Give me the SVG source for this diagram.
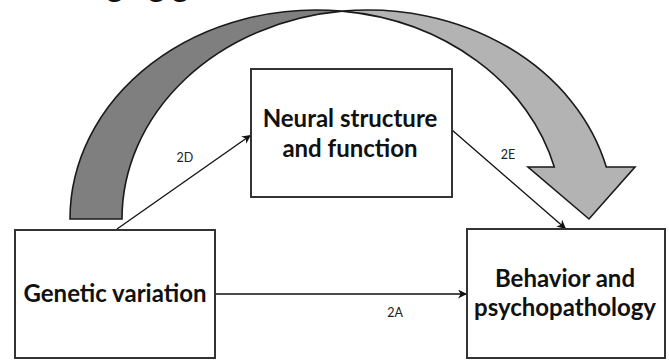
<svg xmlns="http://www.w3.org/2000/svg" width="669" height="360" viewBox="0 0 669 360">
  <style>
    .box { fill: #ffffff; stroke: #333333; stroke-width: 2; }
    .label { font-family: Lato, "Liberation Sans", sans-serif; font-weight: bold; font-size: 24px; fill: #111111; text-anchor: middle; }
    .path-id { font-family: Lato, "Liberation Sans", sans-serif; font-size: 12.5px; fill: #222222; text-anchor: middle; }
    .title { font-family: Lato, "Liberation Sans", sans-serif; font-weight: bold; font-size: 31px; fill: #111111; }
    .link { fill: none; stroke: #111111; stroke-width: 1.3; marker-end: url(#head); }
    .band { stroke: #1a1a1a; stroke-width: 1.6; stroke-linejoin: miter; }
  </style>
  <defs>
    <marker id="head" viewBox="0 0 10 10" refX="10" refY="5" markerWidth="9" markerHeight="9" markerUnits="userSpaceOnUse" orient="auto">
      <path d="M0,0 L10,5 L0,10 L3,5 Z" fill="#111111"/>
    </marker>
  </defs>
  <rect width="669" height="360" fill="#ffffff"/>

  <!-- heading, mostly above the top edge -->
  <text class="title" x="56" y="-3">Imaging genetics</text>

  <!-- overarching curved arrow: back half (dark) and front half with head (light) -->
  <g id="curved-arrow">
    <path class="band" fill="#7f7f7f" d="M70,219 A246,209 0 0 1 342,11.17 A246,209 0 0 0 122,219 Z"/>
    <path class="band" fill="#b3b3b3" d="M342,11.17 A246,209 0 0 1 606.3,167 L635,167 L589,219 L528,167 L554.3,167 A246,209 0 0 0 342,11.17 Z"/>
  </g>

  <g id="connectors">
    <line class="link" x1="117" y1="229" x2="251" y2="135"/>
    <line class="link" x1="452" y1="130" x2="566" y2="229"/>
    <line class="link" x1="215" y1="294" x2="467" y2="294"/>
    <text class="path-id" x="185" y="162">2D</text>
    <text class="path-id" x="508" y="159">2E</text>
    <text class="path-id" x="395" y="317">2A</text>
  </g>

  <g id="neural">
    <rect class="box" x="251" y="69" width="201" height="128"/>
    <text class="label" x="350" y="127">Neural structure</text>
    <text class="label" x="350" y="157">and function</text>
  </g>

  <g id="genetic">
    <rect class="box" x="15" y="230" width="200" height="128"/>
    <text class="label" x="115" y="302">Genetic variation</text>
  </g>

  <g id="behavior">
    <rect class="box" x="467" y="229" width="198" height="129"/>
    <text class="label" x="565" y="287">Behavior and</text>
    <text class="label" x="565" y="316">psychopathology</text>
  </g>
</svg>
